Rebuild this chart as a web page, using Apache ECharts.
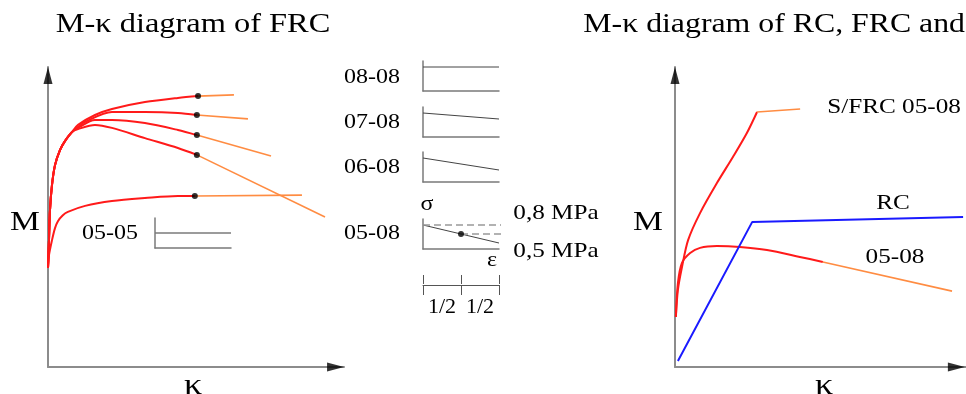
<!DOCTYPE html>
<html>
<head>
<meta charset="utf-8">
<script src="https://cdn.jsdelivr.net/npm/echarts@6/dist/echarts.min.js"></script>
<style>
  html, body { margin: 0; padding: 0; background: #fff; }
  #chart { width: 966px; height: 394px; }
</style>
</head>
<body>
<div id="chart"></div>
<script>
// ---- data (kappa / M in relative units) ----
var riseCommon = [[0, 33], [0.34, 42.3], [0.68, 52.3], [1.37, 60.7], [2.4, 67.3], [4.1, 72.3], [5.8, 75.3], [8.2, 78.3]];
var curve0808 = riseCommon.concat([[10.3, 80.7], [16.1, 84.0], [21.9, 86.0], [33.2, 88.3], [44.5, 89.7], [51.4, 90.3]]);
var curve0708 = riseCommon.concat([[10.3, 80.0], [12.7, 81.7], [21.9, 85.0], [33.2, 85.0], [44.5, 84.7], [51.0, 84.0]]);
var curve0608 = riseCommon.concat([[10.3, 79.7], [16.1, 82.3], [21.9, 82.3], [33.2, 81.3], [44.5, 79.0], [51.0, 77.3]]);
var curve0508 = riseCommon.concat([[10.3, 79.3], [16.1, 80.7], [21.9, 79.7], [33.2, 76.3], [44.5, 73.0], [51.0, 70.7]]);
var curve0505 = [[0, 33], [0.34, 37.3], [1.37, 42.3], [2.4, 46.3], [3.4, 48.6], [5.0, 50.5], [6.8, 51.7], [12.7, 53.7], [21.9, 55.3], [33.2, 56.3], [44.5, 57.0], [50.3, 57.0]];
var tail0808 = [[51.4, 90.3], [63.7, 90.7]];
var tail0708 = [[51.0, 84.0], [68.5, 82.7]];
var tail0608 = [[51.0, 77.3], [76.4, 70.3]];
var tail0508 = [[51.0, 70.7], [94.9, 50.0]];
var tail0505 = [[50.3, 57.0], [87.0, 57.3]];
var leftDots = [[51.4, 90.3], [51.0, 84.0], [51.0, 77.3], [51.0, 70.7], [50.3, 57.0]];

var sfrcCurve = [[0.3, 16.7], [1.0, 25.7], [2.4, 33.3], [4.5, 42.3], [8.6, 51.3], [14.4, 61.3], [19.9, 70.0], [24.7, 78.0], [28.2, 85.0]];
var sfrcTail = [[28.2, 85.0], [43.0, 86.0]];
var frcCurve = [[0.3, 16.7], [1.0, 28.0], [2.4, 34.7], [5.2, 38.0], [8.6, 39.7], [14.4, 40.3], [22.3, 40.0], [31.6, 39.0], [42.9, 36.7], [50.8, 35.0]];
var frcTail = [[50.8, 35.0], [95.2, 25.3]];
var rcLine = [[1.0, 2.0], [26.5, 48.3], [99.0, 50.0]];

// tension softening sketches (sigma at eps=0 and eps=1, MPa)
var mixLabels = ['08-08', '07-08', '06-08', '05-08', '05-05'];
var stressStart = [0.8, 0.8, 0.8, 0.8, 0.5];
var stressEnd = [0.8, 0.6, 0.4, 0.2, 0.5];
var midDot = [[0.5, 0.5]];
var levelTop = [[0, 0.8], [2.37, 0.8]];
var levelMid = [[0.5, 0.5], [2.37, 0.5]];
var halfLabels = ['1/2', '1/2'];

var leftArrows = [[0, 97.2], [98.5, 0]];
var rightArrows = [[0, 97.2], [96.7, 0]];

var RED = '#ff1a1a', ORANGE = '#ff8c42', BLUE = '#1a1aff', AXIS = '#8c8c8c';
var FONT = 'Liberation Serif';

var chart = echarts.init(document.getElementById('chart'));

function label(text, x, y, size, align) {
    return {
        type: 'text', x: x, y: y, scaleX: 1.2,
        style: { text: text, fontSize: size, fontFamily: FONT, fill: '#000', align: align || 'center', verticalAlign: 'middle' }
    };
}
function mainAxis(grid, max) {
    return {
        type: 'value', gridIndex: grid, min: 0, max: max,
        axisLine: { show: true, onZero: false, lineStyle: { color: AXIS, width: 2 } },
        axisTick: { show: false }, axisLabel: { show: false }, splitLine: { show: false }
    };
}
function sketchAxis(grid) {
    return {
        type: 'value', gridIndex: grid, min: 0, max: 1,
        axisLine: { show: true, onZero: false, lineStyle: { color: '#7a7a7a', width: 1.5 } },
        axisTick: { show: false }, axisLabel: { show: false }, splitLine: { show: false }
    };
}
function curve(data, color, width, xi, smooth) {
    return {
        type: 'line', xAxisIndex: xi, yAxisIndex: xi, data: data, showSymbol: false,
        smooth: smooth || false, lineStyle: { color: color, width: width }, z: 3
    };
}
function arrows(data, xi) {
    return {
        type: 'scatter', xAxisIndex: xi, yAxisIndex: xi, clip: false, silent: true,
        data: [
            { value: data[0], symbol: 'triangle', symbolSize: [9, 17] },
            { value: data[1], symbol: 'triangle', symbolSize: [9, 17], symbolRotate: -90 }
        ],
        itemStyle: { color: '#000' }, z: 5
    };
}

var sketchTops = [61, 107, 152, 219, 218];
var sketchLefts = [423, 423, 423, 423, 155];

var grids = [
    { left: 48, top: 67, width: 296, height: 300 },
    { left: 675, top: 67, width: 291, height: 300 }
];
var xAxes = [mainAxis(0, 101.4), mainAxis(1, 100)];
var yAxes = [mainAxis(0, 100), mainAxis(1, 100)];
var S = 0.3;
var series = [
    curve(curve0808, RED, 2, 0, S), curve(curve0708, RED, 2, 0, S), curve(curve0608, RED, 2, 0, S),
    curve(curve0508, RED, 2, 0, S), curve(curve0505, RED, 2, 0, S),
    curve(tail0808, ORANGE, 1.6, 0), curve(tail0708, ORANGE, 1.6, 0), curve(tail0608, ORANGE, 1.6, 0),
    curve(tail0508, ORANGE, 1.6, 0), curve(tail0505, ORANGE, 1.6, 0),
    { type: 'scatter', xAxisIndex: 0, yAxisIndex: 0, data: leftDots, symbolSize: 6, itemStyle: { color: '#000' }, z: 6 },
    arrows(leftArrows, 0),
    curve(sfrcCurve, RED, 2, 1, S), curve(sfrcTail, ORANGE, 1.6, 1),
    curve(frcCurve, RED, 2, 1, S), curve(frcTail, ORANGE, 1.6, 1),
    curve(rcLine, BLUE, 2, 1),
    arrows(rightArrows, 1)
];

mixLabels.forEach(function (name, i) {
    var gi = grids.length;
    grids.push({ left: sketchLefts[i], top: sketchTops[i], width: 76, height: 30 });
    xAxes.push(sketchAxis(gi));
    yAxes.push(sketchAxis(gi));
    series.push({
        type: 'line', xAxisIndex: gi, yAxisIndex: gi, showSymbol: false,
        data: [[0, stressStart[i]], [1, stressEnd[i]]],
        lineStyle: { color: i === 4 ? '#7a7a7a' : '#444', width: i === 4 ? 1.5 : 1 }
    });
    if (name === '05-08' && i === 3) {
        series.push({
            type: 'line', xAxisIndex: gi, yAxisIndex: gi, showSymbol: false, clip: false, data: levelTop,
            lineStyle: { color: '#999', width: 1.5, type: [7, 4] }
        }, {
            type: 'line', xAxisIndex: gi, yAxisIndex: gi, showSymbol: false, clip: false, data: levelMid,
            lineStyle: { color: '#999', width: 1.5, type: [7, 4] }
        }, {
            type: 'scatter', xAxisIndex: gi, yAxisIndex: gi, data: midDot, symbolSize: 6,
            itemStyle: { color: '#000' }, z: 6
        });
    }
});

// 1/2 + 1/2 scale bar
var barGrid = grids.length;
grids.push({ left: 423, top: 284, width: 76, height: 1 });
xAxes.push({
    type: 'category', gridIndex: barGrid, position: 'bottom', data: halfLabels, boundaryGap: true,
    axisLine: { show: true, lineStyle: { color: '#555', width: 1 } },
    axisTick: { show: true, interval: 0, length: 10, lineStyle: { color: '#555', width: 1 } },
    axisLabel: { show: true, interval: 0, color: '#000', fontSize: 22, fontFamily: FONT, margin: 11 }
}, {
    type: 'category', gridIndex: barGrid, position: 'top', data: halfLabels, boundaryGap: true,
    axisLine: { show: false },
    axisTick: { show: true, interval: 0, length: 9, lineStyle: { color: '#555', width: 1 } },
    axisLabel: { show: false }
});
yAxes.push({ type: 'value', gridIndex: barGrid, show: false });

var option = {
    animation: false,
    backgroundColor: '#fff',
    grid: grids,
    xAxis: xAxes,
    yAxis: yAxes,
    series: series,
    graphic: [
        label('M-κ diagram of FRC', 193, 25, 27),
        label('M-κ diagram of RC, FRC and', 965, 25, 26.5, 'right'),
        label('M', 25, 223, 28), label('κ', 193, 386, 30),
        label('M', 648, 223, 28), label('κ', 824, 386, 30),
        label('05-05', 110, 234, 20),
        label('08-08', 372, 78, 20), label('07-08', 372, 123, 20),
        label('06-08', 372, 168, 20), label('05-08', 372, 234, 20),
        label('σ', 427, 205, 20), label('ε', 492, 261, 20),
        label('0,8 MPa', 556, 213, 21), label('0,5 MPa', 556, 251, 21),
        label('S/FRC 05-08', 894, 107, 21), label('RC', 893, 203, 21), label('05-08', 895, 257, 21)
    ]
};
chart.setOption(option);
window.addEventListener('resize', chart.resize);
</script>
</body>
</html>
